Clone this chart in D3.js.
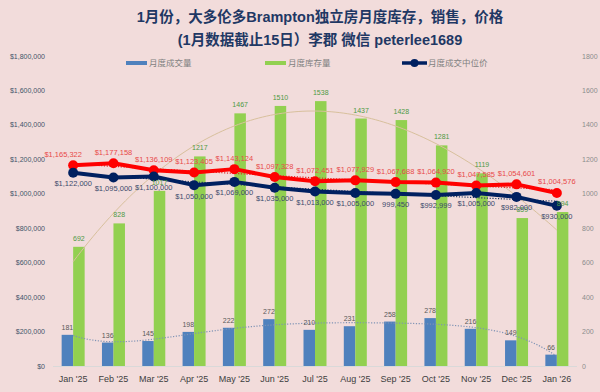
<!DOCTYPE html>
<html>
<head>
<meta charset="utf-8">
<script src="https://cdn.jsdelivr.net/npm/d3@7"></script>
<style>
  html, body { margin: 0; padding: 0; background: #f2dcdb; }
  svg { display: block; }
  text { font-family: "Liberation Sans", "Noto Sans CJK SC", sans-serif; }
</style>
</head>
<body>
<svg id="chart" width="600" height="392"></svg>
<script>
const months = ["Jan '25","Feb '25","Mar '25","Apr '25","May '25","Jun '25","Jul '25","Aug '25","Sep '25","Oct '25","Nov '25","Dec '25","Jan '26"];
const sales = [181,136,145,198,222,272,210,231,258,278,216,149,66];
const inventory = [692,828,1017,1217,1467,1510,1538,1437,1428,1281,1119,859,894];
const medianPrice = [1122000,1095000,1100000,1050000,1069000,1035000,1013000,1005000,999450,992999,1005000,982000,930000];
const avgPrice = [1165322,1177158,1136109,1123405,1143124,1097328,1072451,1077929,1067688,1064920,1047585,1054601,1004576];
const leftTicks = [0,200000,400000,600000,800000,1000000,1200000,1400000,1600000,1800000];
const rightTicks = [0,200,400,600,800,1000,1200,1400,1600,1800];
const titleLines = ["1月份，大多伦多Brampton独立房月度库存，销售，价格", "(1月数据截止15日）李郡  微信 peterlee1689"];
const legendNames = ["月度成交量", "月度库存量", "月度成交中位价"];

const svg = d3.select("#chart");
const W = 600, H = 392;
svg.append("rect").attr("width", W).attr("height", H).attr("fill", "#f2dcdb");

const x = d3.scaleBand().domain(months).range([53, 577]).padding(0);
const cx = m => x(m) + x.bandwidth() / 2;
const yL = d3.scaleLinear().domain([0, 1800000]).range([366, 56]);
const yR = d3.scaleLinear().domain([0, 1800]).range([366, 56]);
const xi = d3.scaleLinear().domain([0, months.length - 1]).range([cx(months[0]), cx(months[months.length - 1])]);

// polynomial least-squares fit (trendline derived from data)
function polyfit(vals, order) {
  const n = vals.length, N = order + 1;
  const xs = vals.map((_, i) => i / (n - 1));
  const A = Array.from({length: N}, () => new Array(N + 1).fill(0));
  for (let r = 0; r < N; r++) {
    for (let c = 0; c < N; c++) A[r][c] = d3.sum(xs, t => Math.pow(t, r + c));
    A[r][N] = d3.sum(xs.map((t, i) => Math.pow(t, r) * vals[i]));
  }
  for (let i = 0; i < N; i++) {
    let p = i;
    for (let k = i + 1; k < N; k++) if (Math.abs(A[k][i]) > Math.abs(A[p][i])) p = k;
    [A[i], A[p]] = [A[p], A[i]];
    for (let k = i + 1; k < N; k++) {
      const f = A[k][i] / A[i][i];
      for (let j = i; j <= N; j++) A[k][j] -= f * A[i][j];
    }
  }
  const coef = new Array(N).fill(0);
  for (let i = N - 1; i >= 0; i--) {
    let s = A[i][N];
    for (let j = i + 1; j < N; j++) s -= A[i][j] * coef[j];
    coef[i] = s / A[i][i];
  }
  return t => coef.reduce((acc, c, k) => acc + c * Math.pow(t / (n - 1), k), 0);
}
function trend(vals, order, yScale) {
  const f = polyfit(vals, order);
  const pts = d3.range(0, vals.length - 1 + 0.001, 0.1).map(t => [xi(t), yScale(f(t))]);
  return d3.line()(pts);
}

// Title
svg.selectAll("text.title").data(titleLines).join("text")
  .attr("class", "title")
  .attr("x", 320).attr("y", (d, i) => 22 + i * 23)
  .attr("text-anchor", "middle")
  .attr("font-size", 14.5).attr("font-weight", "bold")
  .attr("fill", "#1f3864")
  .text(d => d);

// Legend
const lg = svg.append("g").attr("font-size", 8.5).attr("fill", "#808080");
lg.append("rect").attr("x", 126).attr("y", 61).attr("width", 21).attr("height", 4).attr("fill", "#4f81bd");
lg.append("text").attr("x", 149).attr("y", 66).text(legendNames[0]);
lg.append("rect").attr("x", 265).attr("y", 61).attr("width", 21).attr("height", 4).attr("fill", "#92d050");
lg.append("text").attr("x", 288).attr("y", 66).text(legendNames[1]);
lg.append("line").attr("x1", 402).attr("x2", 427).attr("y1", 63).attr("y2", 63).attr("stroke", "#002060").attr("stroke-width", 3.5);
lg.append("circle").attr("cx", 414.5).attr("cy", 63).attr("r", 4).attr("fill", "#002060");
lg.append("text").attr("x", 428).attr("y", 66).text(legendNames[2]);

// Axes labels
svg.append("g").selectAll("text").data(leftTicks).join("text")
  .attr("x", 45).attr("y", d => yL(d) + 2.5)
  .attr("text-anchor", "end").attr("font-size", 7).attr("fill", "#44546a")
  .text(d => "$" + d3.format(",")(d));
svg.append("g").selectAll("text").data(rightTicks).join("text")
  .attr("x", 582).attr("y", d => yR(d) + 2.5)
  .attr("text-anchor", "start").attr("font-size", 7).attr("fill", "#8c8c8c")
  .text(d => d);
svg.append("line").attr("x1", 53).attr("x2", 577).attr("y1", yR(0) + 0.5).attr("y2", yR(0) + 0.5)
  .attr("stroke", "#d9d9d9").attr("stroke-width", 1);
svg.append("g").selectAll("text").data(months).join("text")
  .attr("x", d => cx(d)).attr("y", 382)
  .attr("text-anchor", "middle").attr("font-size", 9).attr("fill", "#404040")
  .text(d => d);

// Bars
const bw = 11.5;
svg.append("g").selectAll("rect").data(months).join("rect")
  .attr("x", d => cx(d) - bw).attr("width", bw)
  .attr("y", (d, i) => yR(sales[i])).attr("height", (d, i) => yR(0) - yR(sales[i]))
  .attr("fill", "#4f81bd");
svg.append("g").selectAll("rect").data(months).join("rect")
  .attr("x", d => cx(d)).attr("width", bw)
  .attr("y", (d, i) => yR(inventory[i])).attr("height", (d, i) => yR(0) - yR(inventory[i]))
  .attr("fill", "#92d050");

// Trendlines
svg.append("path").attr("d", trend(inventory, 3, yR)).attr("fill", "none")
  .attr("stroke", "#d8c09c").attr("stroke-width", 1);
svg.append("path").attr("d", trend(sales, 5, yR)).attr("fill", "none")
  .attr("stroke", "#7f93b5").attr("stroke-width", 1.2).attr("stroke-dasharray", "1.2,1.6");
svg.append("path").attr("d", trend(avgPrice, 2, yL)).attr("fill", "none")
  .attr("stroke", "#e02020").attr("stroke-width", 1.2).attr("stroke-dasharray", "1.2,1.6");
svg.append("path").attr("d", trend(medianPrice, 2, yL)).attr("fill", "none")
  .attr("stroke", "#1f3864").attr("stroke-width", 1.2).attr("stroke-dasharray", "1.2,1.6");

// Lines
const lineL = d3.line().x((d, i) => cx(months[i])).y(d => yL(d));
svg.append("path").attr("d", lineL(avgPrice)).attr("fill", "none").attr("stroke", "#ff0000").attr("stroke-width", 4).attr("stroke-linejoin", "round");
svg.append("g").selectAll("circle").data(avgPrice).join("circle")
  .attr("cx", (d, i) => cx(months[i])).attr("cy", d => yL(d)).attr("r", 5).attr("fill", "#ff0000");
svg.append("path").attr("d", lineL(medianPrice)).attr("fill", "none").attr("stroke", "#002060").attr("stroke-width", 4).attr("stroke-linejoin", "round");
svg.append("g").selectAll("circle").data(medianPrice).join("circle")
  .attr("cx", (d, i) => cx(months[i])).attr("cy", d => yL(d)).attr("r", 5).attr("fill", "#002060");

// Data labels
const money = d => (d >= 999000 && d < 1000000 && d % 1000 !== 0) ? d3.format(",")(d) : "$" + d3.format(",")(d);
svg.append("g").selectAll("text").data(sales).join("text")
  .attr("x", (d, i) => cx(months[i]) - bw / 2).attr("y", d => yR(d) - 5)
  .attr("text-anchor", "middle").attr("font-size", 7).attr("fill", "#595959").text(d => d);
svg.append("g").selectAll("text").data(inventory).join("text")
  .attr("x", (d, i) => cx(months[i]) + bw / 2).attr("y", d => yR(d) - 6)
  .attr("text-anchor", "middle").attr("font-size", 7).attr("fill", "#4e9a44").text(d => d);
svg.append("g").selectAll("text").data(avgPrice).join("text")
  .attr("x", (d, i) => cx(months[i]) - (i === 0 ? 10 : 0)).attr("y", d => yL(d) - 8.5)
  .attr("text-anchor", "middle").attr("font-size", 7.5).attr("fill", "#e84a4a").text(d => "$" + d3.format(",")(d));
svg.append("g").selectAll("text").data(medianPrice).join("text")
  .attr("x", (d, i) => cx(months[i])).attr("y", d => yL(d) + 13.5)
  .attr("text-anchor", "middle").attr("font-size", 7.5).attr("fill", "#3b4a6b").text(money);
</script>
</body>
</html>
